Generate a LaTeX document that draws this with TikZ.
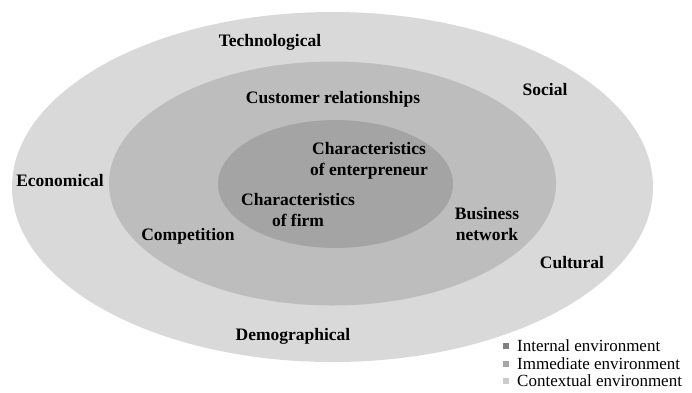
\documentclass[tikz,border=0pt]{standalone}
\usepackage{fontspec}
\setmainfont{Liberation Serif}
\definecolor{outergray}{HTML}{D9D9D9}
\definecolor{midgray}{HTML}{BDBDBD}
\definecolor{innergray}{HTML}{A4A4A4}
\definecolor{keydark}{HTML}{808080}
\definecolor{keymid}{HTML}{A6A6A6}
\definecolor{keylight}{HTML}{CCCCCC}
\tikzset{
  factor/.style={font=\bfseries\fontsize{17.5}{21.5}\selectfont, align=center, inner sep=0pt},
  keytext/.style={font=\fontsize{17}{20}\selectfont, anchor=west, inner sep=0pt}
}
\begin{document}
\begin{tikzpicture}[x=1pt,y=-1pt]
  \useasboundingbox (0,0) rectangle (692,392);
  \fill[white] (0,0) rectangle (692,392);
  % nested environments
  \fill[outergray] (332.5,187) ellipse (320.5 and 175);
  \fill[midgray] (332.5,183.5) ellipse (223.5 and 122);
  \fill[innergray] (335.5,184) ellipse (117.5 and 64);
  % contextual factors
  \node[factor] (tech) at (270,42) {Technological};
  \node[factor] (social) at (545,90) {Social};
  \node[factor] (econ) at (60,181) {Economical};
  \node[factor] (cult) at (572,263) {Cultural};
  \node[factor] (demo) at (293,336) {Demographical};
  % immediate factors
  \node[factor] (cust) at (333,99) {Customer relationships};
  \node[factor] (comp) at (188,236) {Competition};
  \node[factor] (busnet) at (487,224) {Business\\network};
  % internal factors
  \node[factor] (entr) at (369,161) {Characteristics\\of enterpreneur};
  \node[factor] (firm) at (298,210) {Characteristics\\of firm};
  % legend
  \fill[keydark] (503,343) rectangle (509,349);
  \node[keytext] (kint) at (517,346) {Internal environment};
  \fill[keymid] (503,360.5) rectangle (509,366.5);
  \node[keytext] (kimm) at (517,363.5) {Immediate environment};
  \fill[keylight] (503,378) rectangle (509,384);
  \node[keytext] (kctx) at (517,381) {Contextual environment};
\end{tikzpicture}
\end{document}
